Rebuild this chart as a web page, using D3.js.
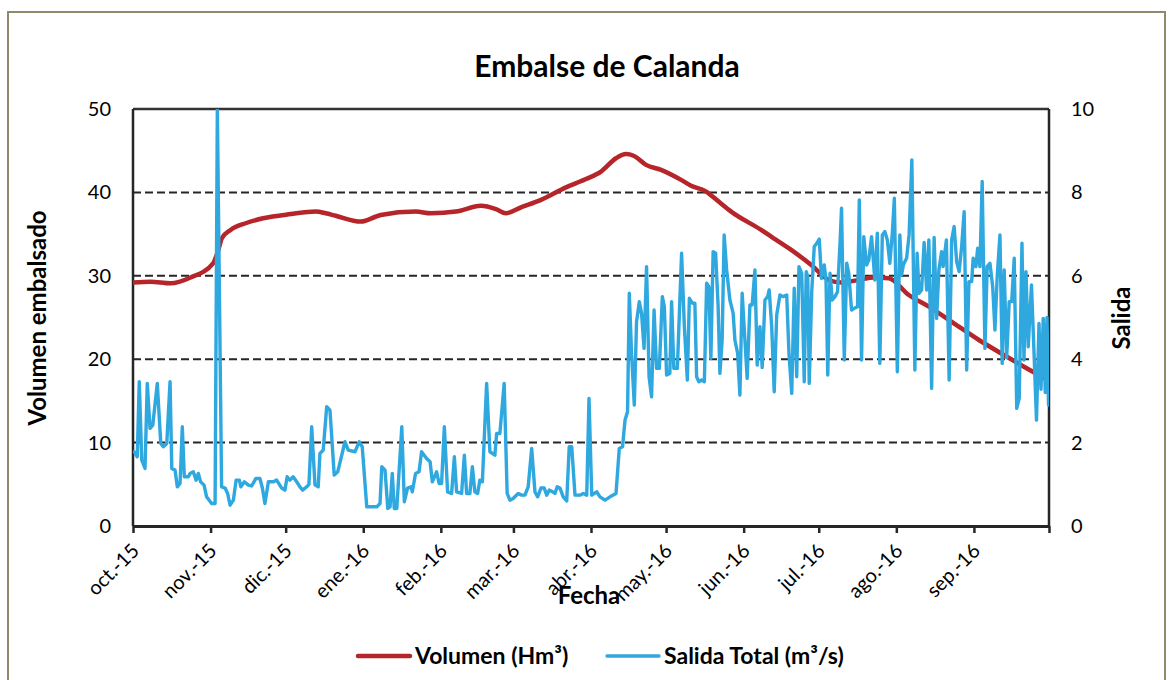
<!DOCTYPE html>
<html>
<head>
<meta charset="utf-8">
<script src="https://cdn.jsdelivr.net/npm/d3@7"></script>
<style>
  html, body { margin: 0; padding: 0; background: #fff; }
  svg text { font-family: Lato, "Open Sans", sans-serif; fill: #000; }
</style>
</head>
<body>
<div id="chart"></div>
<script>
// month tick labels (Spanish), oct 2015 .. sep 2016
const monthLabels = ["oct.-15", "nov.-15", "dic.-15", "ene.-16", "feb.-16", "mar.-16",
  "abr.-16", "may.-16", "jun.-16", "jul.-16", "ago.-16", "sep.-16"];
const volTicks = [0, 10, 20, 30, 40, 50];
const salTicks = [0, 2, 4, 6, 8, 10];

// Volumen (Hm3): [days since 1 oct 2015, value]
const volumen = [[0,29.2],[7,29.3],[15,29.1],[23,29.8],[32,31.5],[34,33.0],[35.5,34.5],[39,35.5],
  [45,36.3],[52,36.9],[63,37.4],[73,37.7],[77,37.5],[81,37.2],[91,36.5],[99,37.3],[113,37.7],
  [119,37.5],[129,37.7],[139,38.4],[145,38.0],[149,37.5],[155,38.2],[163,39.1],[173,40.6],
  [181,41.6],[187,42.5],[193,44.1],[197,44.6],[200,44.4],[205,43.3],[211,42.7],[219,41.5],
  [223,40.8],[229,40.1],[234,38.9],[239,37.7],[251,35.5],[256,34.5],[263,33.1],[271,31.3],
  [278,29.5],[283,29.2],[290,29.5],[296,29.8],[302,29.7],[310,27.7],[318,26.3],[328,24.3],
  [338,22.3],[348,20.5],[356,19.1],[365,17.6]];

// Salida total (m3/s): [days since 1 oct 2015, value]
const salida = [[0.4,1.78],[1.7,1.66],[2.5,3.46],[3.5,1.58],[4.8,1.38],[5.7,3.42],[6.8,2.34],[7.9,2.42],
  [9.7,3.42],[11.1,1.98],[12.1,1.90],[13.5,1.98],[14.8,3.46],[15.5,1.38],[16.8,1.34],[17.7,0.94],
  [18.8,1.02],[19.7,2.38],[20.5,1.18],[22.1,1.18],[22.8,1.26],[24.1,1.30],[25.2,1.10],[26.1,1.26],
  [27.0,1.06],[28.4,0.98],[29.4,0.70],[31.4,0.54],[32.8,0.54],[33.7,10.0],[35.4,0.94],[36.8,0.91],
  [37.8,0.78],[38.8,0.50],[40.1,0.62],[41.2,1.10],[42.5,1.10],[43.1,0.94],[44.5,1.06],[46.1,0.98],
  [47.4,0.96],[49.1,1.14],[50.7,1.14],[51.7,0.91],[52.7,0.54],[54.1,1.06],[56.1,1.06],[57.4,1.10],
  [59.4,0.91],[60.7,0.86],[61.6,1.18],[62.7,1.10],[64.0,1.18],[65.4,1.06],[66.7,0.94],[67.8,0.86],
  [69.4,0.94],[70.3,1.00],[71.4,2.38],[72.7,0.99],[74.0,0.94],[74.7,1.74],[76.0,1.82],[77.4,2.86],
  [78.7,2.78],[80.4,1.22],[81.8,1.30],[84.7,2.02],[86.0,1.82],[88.7,1.78],[90.4,2.02],[91.6,1.90],
  [93.4,0.46],[97.4,0.46],[98.7,0.54],[99.4,1.42],[100.7,1.34],[101.8,0.42],[102.7,0.46],[103.6,1.26],
  [104.4,0.42],[105.4,0.42],[107.4,2.38],[108.4,0.58],[109.7,0.91],[111.1,0.94],[111.6,0.82],[112.9,1.26],
  [114.3,1.30],[115.3,1.78],[117.3,1.62],[118.7,1.54],[119.6,1.06],[121.3,1.30],[122.3,1.02],[123.3,1.02],
  [124.4,2.38],[125.7,0.82],[127.3,0.78],[128.4,1.66],[129.3,0.82],[131.3,0.78],[132.4,1.70],[133.3,0.78],
  [134.6,0.78],[135.6,1.42],[136.6,0.82],[137.7,0.78],[138.6,1.10],[139.6,1.06],[141.3,3.42],[142.6,1.78],
  [144.6,1.70],[145.3,2.22],[146.6,2.22],[148.3,3.42],[149.5,0.78],[150.6,0.62],[151.9,0.66],[153.9,0.78],
  [155.3,0.74],[156.6,0.74],[157.9,0.94],[159.3,1.86],[160.6,0.82],[161.7,0.70],[163.0,0.91],[164.3,0.91],
  [165.3,0.74],[166.3,0.86],[167.7,0.82],[168.6,0.78],[169.5,0.94],[170.6,0.91],[171.9,0.70],[173.3,0.60],
  [174.3,1.90],[175.3,1.90],[176.6,0.74],[178.6,0.74],[179.9,0.78],[181.3,0.74],[182.2,3.06],[183.3,0.74],
  [185.3,0.82],[186.6,0.70],[188.6,0.62],[190.6,0.70],[193.0,0.78],[194.3,1.86],[195.6,1.90],[196.6,2.54],
  [197.6,2.74],[198.3,5.58],[199.2,4.14],[200.3,2.90],[201.2,4.90],[202.3,5.38],[203.2,5.10],[204.2,4.26],
  [205.2,6.22],[206.2,3.58],[207.2,3.10],[208.2,5.18],[209.2,3.78],[210.3,3.78],[211.5,5.50],[212.3,5.26],
  [213.2,3.62],[214.5,3.66],[215.2,5.38],[216.1,3.78],[217.5,3.78],[219.2,6.54],[220.3,4.78],[221.5,3.50],
  [222.3,5.46],[223.6,5.34],[224.5,5.34],[225.2,3.58],[226.1,3.46],[227.2,3.50],[228.3,3.46],[229.2,5.82],
  [230.1,5.74],[230.9,4.02],[231.8,6.58],[232.8,6.54],[233.8,5.26],[234.5,3.66],[235.4,4.46],[236.2,6.98],
  [237.2,6.14],[238.5,5.42],[239.8,5.10],[240.5,4.46],[241.6,4.14],[242.5,3.14],[243.4,5.58],[244.5,4.46],
  [245.4,3.54],[246.5,5.30],[247.4,5.30],[248.5,6.14],[249.4,3.86],[250.5,4.78],[251.4,3.80],[252.5,5.42],
  [253.6,5.50],[254.2,5.66],[255.2,4.78],[256.2,3.22],[257.2,5.06],[258.5,5.54],[259.8,5.50],[261.2,5.54],
  [262.1,4.14],[263.2,3.18],[264.2,5.70],[265.2,3.58],[266.1,6.22],[267.2,6.06],[268.2,3.46],[269.0,6.10],
  [269.6,5.98],[270.2,3.42],[271.2,5.62],[272.2,6.70],[273.2,6.78],[274.2,6.88],[275.1,5.94],[276.2,6.26],
  [276.9,5.90],[277.6,3.62],[278.5,6.06],[279.4,5.42],[280.5,5.50],[281.5,5.62],[282.5,6.78],[283.1,7.62],
  [284.2,3.98],[285.2,6.30],[286.0,6.06],[287.1,5.18],[288.2,5.22],[289.5,5.26],[290.2,7.82],[291.1,3.98],
  [292.0,6.94],[293.1,6.26],[294.0,6.38],[295.1,6.94],[296.4,5.90],[297.4,7.02],[298.4,3.90],[299.4,6.98],
  [300.4,7.06],[301.4,6.86],[302.4,6.30],[303.4,7.02],[304.2,7.86],[305.4,3.70],[306.4,6.98],[307.1,6.02],
  [307.8,6.26],[308.4,6.34],[309.1,6.42],[310.1,6.98],[311.2,8.78],[312.4,3.74],[313.3,6.54],[314.1,5.58],
  [315.1,5.66],[316.1,6.80],[317.1,5.66],[318.0,6.86],[319.1,3.30],[320.1,6.92],[321.1,4.98],[322.0,6.14],
  [323.1,6.58],[323.7,6.22],[325.0,6.86],[326.1,3.50],[327.1,6.86],[328.1,7.18],[329.1,6.34],[330.1,6.10],
  [331.1,6.70],[332.1,7.54],[333.1,3.74],[334.0,5.86],[335.1,5.86],[335.7,6.42],[336.8,6.22],[337.5,6.66],
  [338.4,6.22],[339.3,8.26],[340.4,4.26],[341.3,6.22],[342.4,6.30],[343.5,5.74],[344.4,4.70],[345.3,5.98],
  [346.4,6.98],[347.3,3.90],[348.1,6.14],[349.1,4.04],[350.1,5.38],[351.1,5.38],[352.1,6.42],[353.1,2.82],
  [354.1,3.06],[355.2,6.78],[356.0,3.98],[356.8,6.10],[357.7,4.30],[359.0,5.78],[360.0,4.18],[361.0,2.54],
  [362.0,4.86],[362.8,3.28],[363.7,4.98],[364.5,3.20],[365.2,5.00],[365.8,2.90]];

const W = 1173, H = 680;
const margin = {top: 109, right: 124, bottom: 154, left: 133};
const width = W - margin.left - margin.right,
  height = H - margin.top - margin.bottom;

const start = new Date(2015, 9, 1);
const dayToDate = d => new Date(start.getTime() + d * 864e5);
const monthTicks = d3.timeMonth.range(start, new Date(2016, 9, 2));

const svg = d3.select("#chart").append("svg")
  .attr("width", W)
  .attr("height", H);

// outer frame
svg.append("rect")
  .attr("x", 8).attr("y", 12)
  .attr("width", 1157).attr("height", 700)
  .attr("fill", "none")
  .attr("stroke", "#8e8b6d")
  .attr("stroke-width", 2);

svg.append("text")
  .attr("x", 607).attr("y", 77)
  .attr("text-anchor", "middle")
  .style("font-size", "30px").style("font-weight", "bold")
  .text("Embalse de Calanda");

const g = svg.append("g")
  .attr("transform", "translate(" + margin.left + "," + margin.top + ")");

const x = d3.scaleTime()
  .domain([start, new Date(2016, 9, 1)])
  .range([0, width]);
const yL = d3.scaleLinear().domain([0, 50]).range([height, 0]);
const yR = d3.scaleLinear().domain([0, 10]).range([height, 0]);

// dashed gridlines
g.append("g")
  .selectAll("line")
  .data(volTicks.filter(v => v > 0 && v < 50))
  .join("line")
  .attr("x1", 0).attr("x2", width)
  .attr("y1", d => yL(d)).attr("y2", d => yL(d))
  .attr("stroke", "#262626")
  .attr("stroke-width", 2)
  .attr("stroke-dasharray", "8,4");

// top border
g.append("line")
  .attr("x1", 0).attr("x2", width)
  .attr("y1", 0).attr("y2", 0)
  .attr("stroke", "#333").attr("stroke-width", 2.5);

// left axis
const axL = g.append("g")
  .call(d3.axisLeft(yL).tickValues(volTicks).tickSize(0).tickPadding(22));
axL.select(".domain").remove();
axL.selectAll("text").style("font-size", "20px").style("font-family", "Lato, sans-serif");

// right axis
const axR = g.append("g")
  .attr("transform", "translate(" + width + ",0)")
  .call(d3.axisRight(yR).tickValues(salTicks).tickSize(0).tickPadding(22));
axR.select(".domain").remove();
axR.selectAll("text").style("font-size", "20px").style("font-family", "Lato, sans-serif");

g.append("line")
  .attr("x1", 0).attr("x2", 0).attr("y1", 0).attr("y2", height)
  .attr("stroke", "#262626").attr("stroke-width", 2.5);
g.append("line")
  .attr("x1", width).attr("x2", width).attr("y1", 0).attr("y2", height)
  .attr("stroke", "#262626").attr("stroke-width", 2.5);

// bottom axis
const axB = g.append("g")
  .attr("transform", "translate(0," + height + ")")
  .call(d3.axisBottom(x)
    .tickValues(monthTicks)
    .tickSize(7)
    .tickSizeOuter(0)
    .tickFormat((d, i) => monthLabels[i] || ""));
axB.select(".domain").attr("stroke", "#262626").attr("stroke-width", 3);
axB.selectAll(".tick line").attr("stroke", "#262626").attr("stroke-width", 2.5);
axB.selectAll("text")
  .style("font-size", "20px")
  .style("font-family", "Lato, sans-serif")
  .attr("text-anchor", "end")
  .attr("x", 0).attr("y", 0).attr("dy", 0)
  .attr("transform", "translate(7,26) rotate(-45)");

// clip to plot area
svg.append("clipPath").attr("id", "plot")
  .append("rect").attr("width", width).attr("height", height);

const lineVol = d3.line()
  .x(d => x(dayToDate(d[0])))
  .y(d => yL(d[1]))
  .curve(d3.curveMonotoneX);
const lineSal = d3.line()
  .x(d => x(dayToDate(d[0])))
  .y(d => yR(d[1]));

g.append("path")
  .datum(volumen)
  .attr("clip-path", "url(#plot)")
  .attr("fill", "none")
  .attr("stroke", "#b5252a")
  .attr("stroke-width", 4.5)
  .attr("stroke-linejoin", "round")
  .attr("stroke-linecap", "round")
  .attr("d", lineVol);

g.append("path")
  .datum(salida)
  .attr("clip-path", "url(#plot)")
  .attr("fill", "none")
  .attr("stroke", "#2ea8df")
  .attr("stroke-width", 3.4)
  .attr("stroke-linejoin", "round")
  .attr("stroke-linecap", "round")
  .attr("d", lineSal);

// axis titles
svg.append("text")
  .attr("transform", "translate(46,318) rotate(-90)")
  .attr("text-anchor", "middle")
  .style("font-size", "24px").style("font-weight", "bold")
  .text("Volumen embalsado");
svg.append("text")
  .attr("transform", "translate(1130,318) rotate(-90)")
  .attr("text-anchor", "middle")
  .style("font-size", "24px").style("font-weight", "bold")
  .text("Salida");
svg.append("text")
  .attr("x", 589).attr("y", 604)
  .attr("text-anchor", "middle")
  .style("font-size", "24px").style("font-weight", "bold")
  .text("Fecha");

// legend
const legend = [
  {label: "Volumen (Hm³)", color: "#b5252a", x: 358},
  {label: "Salida Total (m³/s)", color: "#2ea8df", x: 607}
];
const lg = svg.append("g").selectAll("g").data(legend).join("g")
  .attr("transform", d => "translate(" + d.x + ",656)");
lg.append("line")
  .attr("x1", 0).attr("x2", 52)
  .attr("stroke", d => d.color)
  .attr("stroke-width", d => d.x < 400 ? 4.5 : 3.4)
  .attr("stroke-linecap", "round");
lg.append("text")
  .attr("x", 57).attr("dy", "0.35em")
  .style("font-size", "23px").style("font-weight", "bold")
  .text(d => d.label);
</script>
</body>
</html>
